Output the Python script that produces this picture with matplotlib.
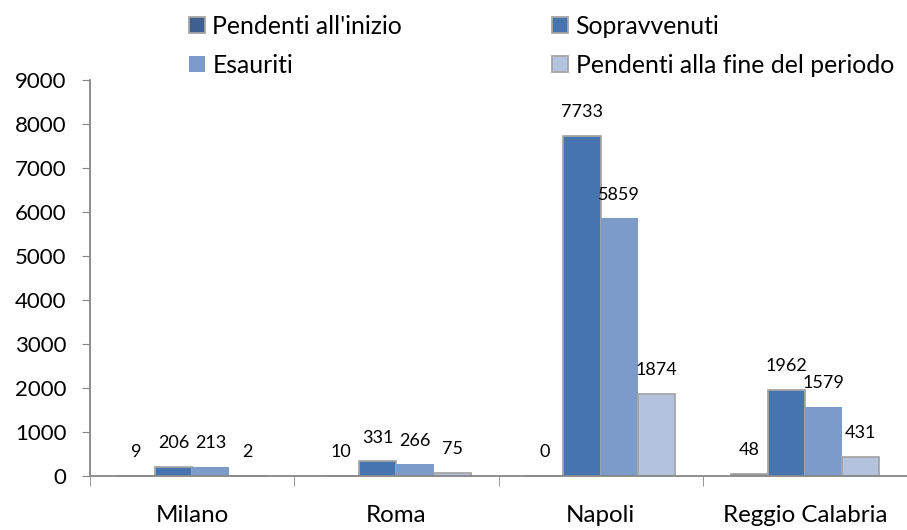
import matplotlib.pyplot as plt
import numpy as np

plt.rcParams['font.family'] = ['Lato', 'DejaVu Sans']

cities = ["Milano", "Roma", "Napoli", "Reggio Calabria"]
series_names = ["Pendenti all'inizio", "Sopravvenuti", "Esauriti",
                "Pendenti alla fine del periodo"]
pendenti_inizio = [9, 10, 0, 48]
sopravvenuti = [206, 331, 7733, 1962]
esauriti = [213, 266, 5859, 1579]
pendenti_fine = [2, 75, 1874, 431]

colors = ["#3E6090", "#4674AE", "#7C9BC8", "#B3C3DE"]
edges = ["#A6A6A6", "#A6A6A6", "none", "#A6A6A6"]

fig = plt.figure(figsize=(9.07, 5.30), dpi=100)
ax = fig.add_axes([90 / 907, 54 / 530, 817 / 907, 396 / 530])

x = np.arange(len(cities))
width = 0.182
values = [pendenti_inizio, sopravvenuti, esauriti, pendenti_fine]
handles = []
for i, (vals, col, ec) in enumerate(zip(values, colors, edges)):
    pos = x + (i - 1.5) * width
    bars = ax.bar(pos, vals, width, color=col, edgecolor=ec,
                  linewidth=1.3, label=series_names[i])
    handles.append(bars)
    for xp, v in zip(pos, vals):
        ax.annotate(str(v), (xp, v), xytext=(0, 17), textcoords='offset points',
                    ha='center', va='center', fontsize=13, color='black')

ax.set_xlim(-0.5, 3.5 - 8 / 206)
ax.set_ylim(0, 9000)
ax.set_yticks(range(0, 9001, 1000))
ax.tick_params(axis='y', labelsize=16, length=6, color='#868686', pad=11)

# category labels centred, tick marks on the boundaries
ax.set_xticks(x)
ax.set_xticklabels(cities, fontsize=17.4)
ax.tick_params(axis='x', which='major', length=0, pad=21)
ax.set_xticks(np.arange(-0.5, 3.6, 1.0), minor=True)
ax.tick_params(axis='x', which='minor', length=7, color='#868686')

for side in ['top', 'right']:
    ax.spines[side].set_visible(False)
for side in ['left', 'bottom']:
    ax.spines[side].set_color('#868686')
    ax.spines[side].set_linewidth(1.3)

order = [0, 2, 1, 3]
fig.legend([handles[k] for k in order], [series_names[k] for k in order],
           ncol=2, loc='upper left', bbox_to_anchor=(174 / 907, 1.0),
           frameon=False, fontsize=17.8, handlelength=0.65, handleheight=0.65,
           handletextpad=0.3, columnspacing=6.07, labelspacing=0.64,
           borderaxespad=0.2)

fig.savefig("out.png", dpi=100)
